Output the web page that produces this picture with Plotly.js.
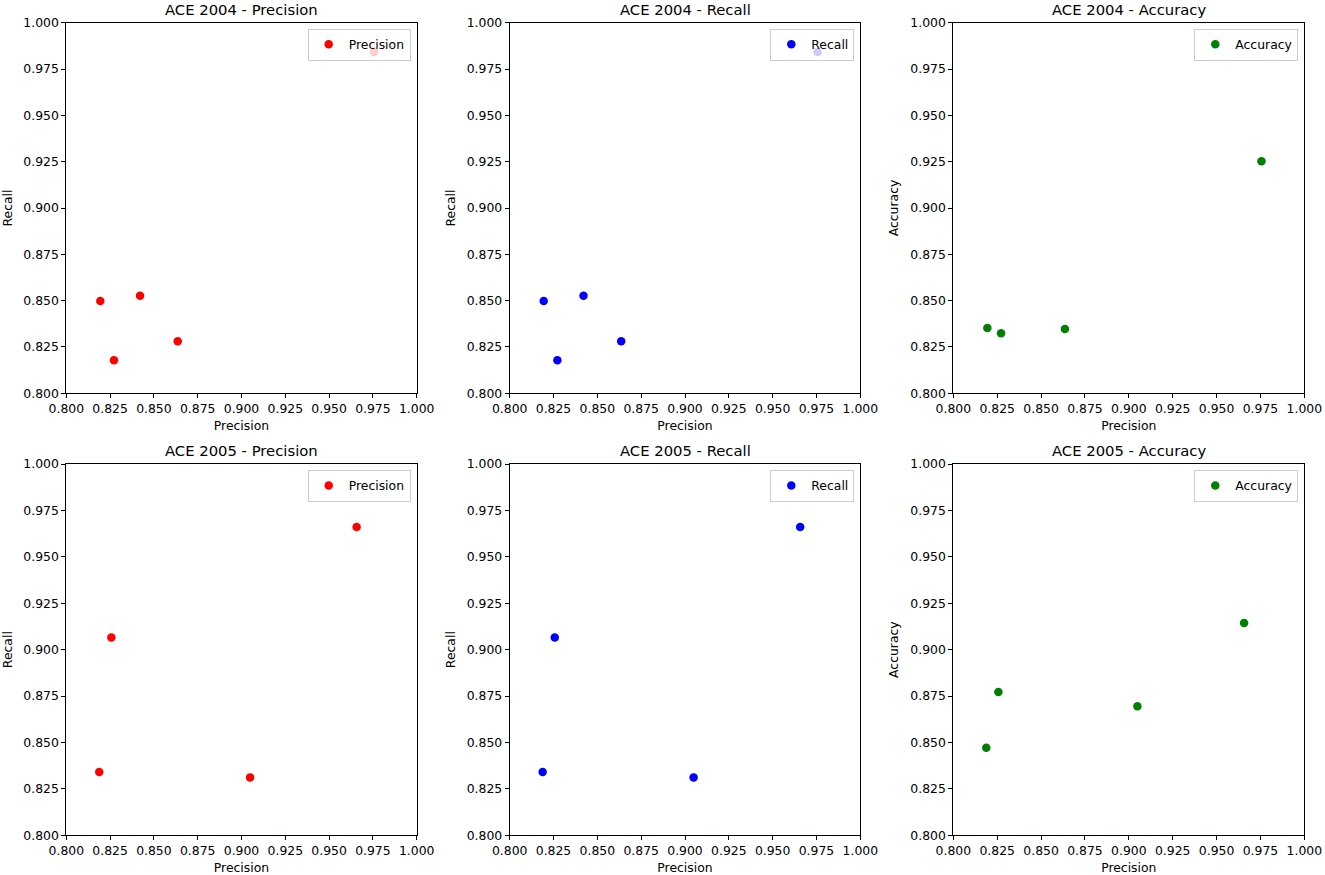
<!DOCTYPE html>
<html>
<head>
<meta charset="utf-8">
<script src="https://cdn.plot.ly/plotly-3.0.1.min.js"></script>
<style>html,body{margin:0;padding:0;background:#fff}#chart{width:1325px;height:875px}</style>
</head>
<body>
<div id="chart"></div>
<script>
// ACE 2004 values
const precision04 = [0.8194, 0.8272, 0.8421, 0.8636, 0.9756];
const recall04    = [0.8498, 0.8178, 0.8527, 0.8281, 0.9842];
const accuracy04  = [0.8353, 0.8324, null,   0.8347, 0.9252];

// ACE 2005 values
const precision05 = [0.8188, 0.8257, 0.9049, 0.9657];
const recall05    = [0.8341, 0.9066, 0.8312, 0.9661];
const accuracy05  = [0.8472, 0.8772, 0.8695, 0.9144];

const titles = ["ACE 2004 - Precision", "ACE 2004 - Recall", "ACE 2004 - Accuracy",
                "ACE 2005 - Precision", "ACE 2005 - Recall", "ACE 2005 - Accuracy"];
const seriesNames = ["Precision", "Recall", "Accuracy"];
const yTitles = ["Recall", "Recall", "Accuracy"];
const xTitle = "Precision";
const tickVals = [0.800, 0.825, 0.850, 0.875, 0.900, 0.925, 0.950, 0.975, 1.000];

const colors = ["#ff0000", "#0000ff", "#008000"];
const font = "DejaVu Sans, sans-serif";
const W = 1325, H = 875;
const colPx = [[66.3, 416.7], [509.7, 860.3], [953.3, 1304.3]];
const rowPx = [[22.7, 393.3], [464.0, 835.3]];

const panels = [
  {x: precision04, y: recall04},
  {x: precision04, y: recall04},
  {x: precision04, y: accuracy04},
  {x: precision05, y: recall05},
  {x: precision05, y: recall05},
  {x: precision05, y: accuracy05}
];

const data = [];
const layout = {
  width: W, height: H,
  margin: {l: 0, r: 0, t: 0, b: 0},
  paper_bgcolor: "#ffffff", plot_bgcolor: "#ffffff",
  font: {family: font, size: 12, color: "#000000"},
  annotations: [],
  showlegend: true
};

panels.forEach((p, i) => {
  const r = Math.floor(i / 3), c = i % 3;
  const n = i + 1;
  const xa = "x" + (n === 1 ? "" : n), ya = "y" + (n === 1 ? "" : n);
  const legName = "legend" + (n === 1 ? "" : n);
  data.push({
    type: "scatter", mode: "markers",
    x: p.x, y: p.y,
    xaxis: xa, yaxis: ya,
    name: seriesNames[c],
    legend: legName,
    marker: {color: colors[c], size: 8.5},
    hoverinfo: "x+y"
  });
  const xd = [colPx[c][0] / W, colPx[c][1] / W];
  const yd = [1 - rowPx[r][1] / H, 1 - rowPx[r][0] / H];
  const axCommon = {
    range: [0.8, 1.0], tickvals: tickVals, tickformat: ".3f",
    showgrid: false, zeroline: false,
    showline: true, linecolor: "#000000", linewidth: 1, mirror: true,
    ticks: "outside", ticklen: 4, tickcolor: "#000000", tickwidth: 1,
    tickfont: {family: font, size: 12.4, color: "#000000"},
    fixedrange: true
  };
  layout["xaxis" + (n === 1 ? "" : n)] = Object.assign({}, axCommon, {
    domain: xd, anchor: ya,
    title: {text: xTitle, font: {family: font, size: 12.4}, standoff: 6}
  });
  layout["yaxis" + (n === 1 ? "" : n)] = Object.assign({}, axCommon, {
    domain: yd, anchor: xa,
    title: {text: yTitles[c], font: {family: font, size: 12.4}, standoff: 8}
  });
  layout[legName] = {
    x: (colPx[c][1] - 6) / W, y: 1 - (rowPx[r][0] + 6) / H,
    xanchor: "right", yanchor: "top",
    xref: "paper", yref: "paper",
    bgcolor: "rgba(255,255,255,0.8)", bordercolor: "#cccccc", borderwidth: 1,
    font: {family: font, size: 12.4, color: "#000000"}
  };
  layout.annotations.push({
    text: titles[i], showarrow: false,
    xref: "paper", yref: "paper",
    x: (xd[0] + xd[1]) / 2, y: yd[1],
    xanchor: "center", yanchor: "bottom", yshift: 3,
    font: {family: font, size: 14.8, color: "#000000"}
  });
});

Plotly.newPlot("chart", data, layout, {displayModeBar: false, staticPlot: true});
</script>
</body>
</html>
